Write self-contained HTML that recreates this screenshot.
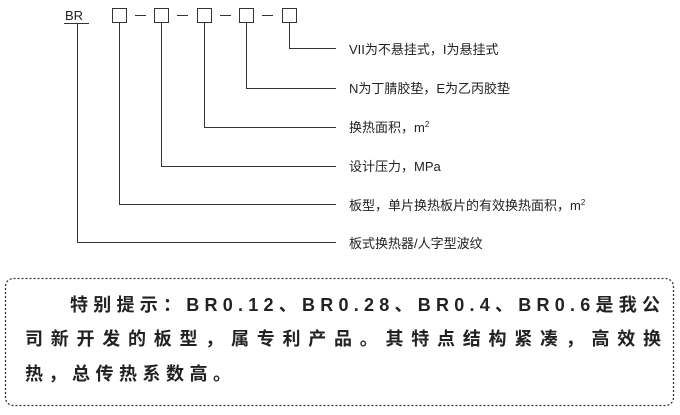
<!DOCTYPE html>
<html><head><meta charset="utf-8"><style>
html,body{margin:0;padding:0;background:#fff;width:680px;height:415px;overflow:hidden}
svg{display:block}
</style></head><body>
<svg width="680" height="415" viewBox="0 0 680 415" xmlns="http://www.w3.org/2000/svg">
<g stroke="#333" stroke-width="1" fill="none">
<line x1="64" y1="23.5" x2="89" y2="23.5"/>
<rect x="112.5" y="8.5" width="14" height="14"/>
<rect x="154.5" y="8.5" width="14" height="14"/>
<rect x="197.5" y="8.5" width="14" height="14"/>
<rect x="239.5" y="8.5" width="14" height="14"/>
<rect x="282.5" y="8.5" width="14" height="14"/>
<line x1="135" y1="15.5" x2="146" y2="15.5"/>
<line x1="177" y1="15.5" x2="188" y2="15.5"/>
<line x1="220" y1="15.5" x2="231" y2="15.5"/>
<line x1="262" y1="15.5" x2="273" y2="15.5"/>
<polyline points="77.5,24 77.5,242.5 336,242.5"/>
<polyline points="119.5,23 119.5,204.5 336,204.5"/>
<polyline points="161.5,23 161.5,166.5 336,166.5"/>
<polyline points="204.5,23 204.5,127.5 336,127.5"/>
<polyline points="246.5,23 246.5,88.5 336,88.5"/>
<polyline points="289.5,23 289.5,48.5 336,48.5"/>
</g>
<text x="65" y="20" font-family="Liberation Sans, sans-serif" font-size="13" fill="#222">BR</text>
<g font-family="Liberation Sans, Noto Sans CJK SC, sans-serif" font-size="13" fill="#222">
<text x="349" y="54">VII为不悬挂式，I为悬挂式</text>
<text x="349" y="93">N为丁腈胶垫，E为乙丙胶垫</text>
<text x="349" y="132">换热面积，m<tspan font-size="8" dy="-5">2</tspan></text>
<text x="349" y="171">设计压力，MPa</text>
<text x="349" y="210">板型，单片换热板片的有效换热面积，m<tspan font-size="8" dy="-5">2</tspan></text>
<text x="349" y="248">板式换热器/人字型波纹</text>
</g>
<rect x="5.5" y="278.5" width="668" height="127" rx="8" fill="none" stroke="#333" stroke-width="1.3" stroke-dasharray="2,2"/>
<g font-family="Liberation Sans, Noto Sans CJK SC, sans-serif" font-size="18" font-weight="bold" fill="#222">
<text x="70" y="311" textLength="590" lengthAdjust="spacing">特别提示：BR0.12、BR0.28、BR0.4、BR0.6是我公</text>
<text x="25" y="345" textLength="636" lengthAdjust="spacing">司新开发的板型，属专利产品。其特点结构紧凑，高效换</text>
<text x="25" y="380" textLength="206" lengthAdjust="spacing">热，总传热系数高。</text>
</g>
</svg>
</body></html>
